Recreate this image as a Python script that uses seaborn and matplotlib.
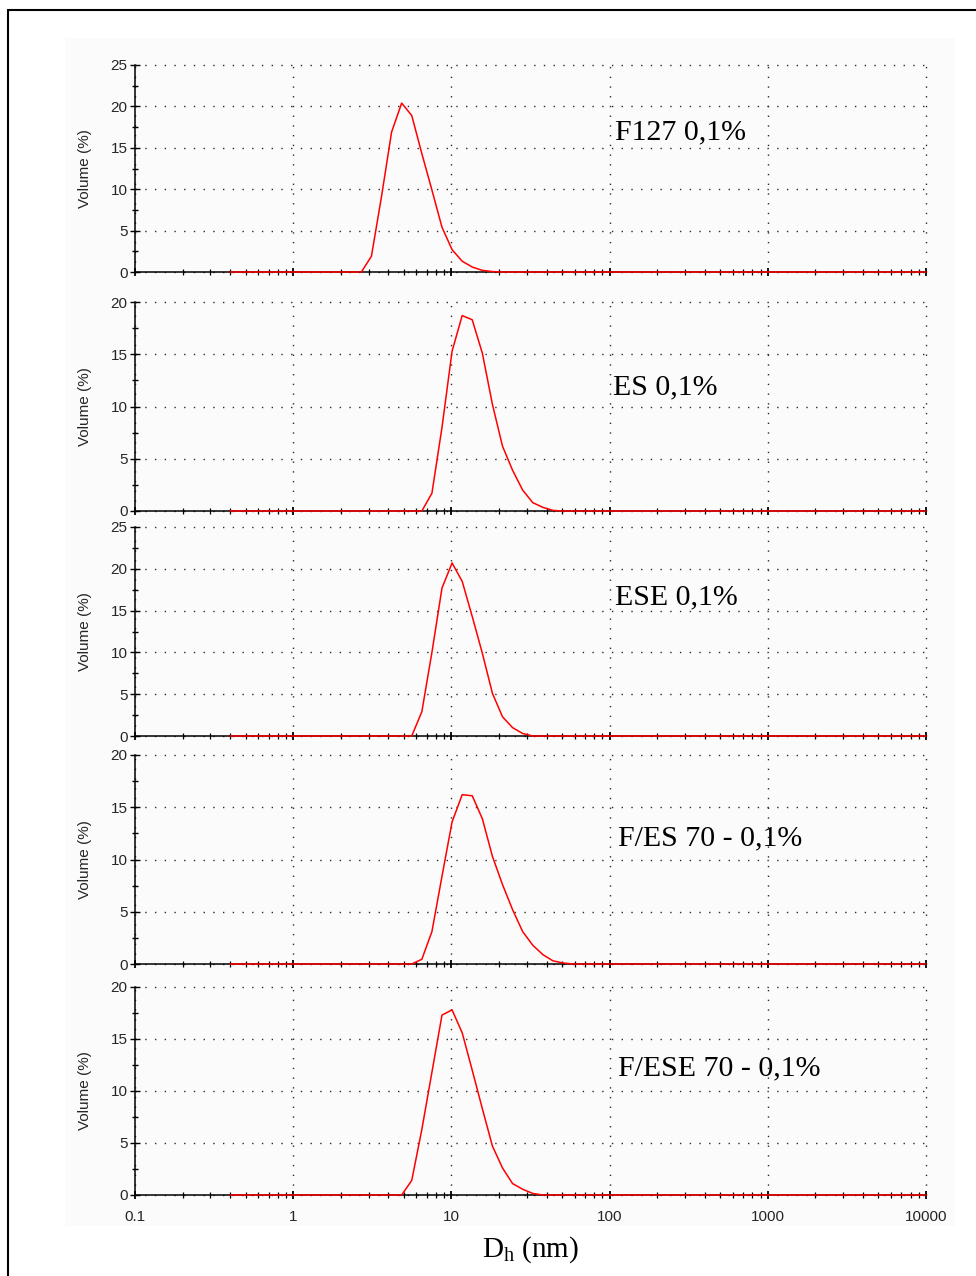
import matplotlib
matplotlib.use("Agg")
import matplotlib.pyplot as plt
import seaborn as sns
import pandas as pd
from matplotlib.ticker import FixedLocator, LogLocator, NullFormatter, FuncFormatter
from matplotlib.lines import Line2D
from matplotlib.patches import Rectangle

# ---------------- data ----------------
labels = ["F127 0,1%", "ES 0,1%", "ESE 0,1%", "F/ES 70 - 0,1%", "F/ESE 70 - 0,1%"]

f127_size = [0.4, 2.696, 3.122, 3.615, 4.187, 4.849, 5.615, 6.503, 7.531, 8.721,
             10.1, 11.7, 13.54, 15.69, 18.17, 21.04, 10000]
f127_vol = [0, 0, 1.9, 9.1, 16.9, 20.4, 18.9, 14.3, 9.9, 5.4,
            2.7, 1.3, 0.6, 0.2, 0.05, 0, 0]

es_size = [0.4, 6.503, 7.531, 8.721, 10.1, 11.7, 13.54, 15.69, 18.17, 21.04,
           24.36, 28.21, 32.67, 37.84, 43.82, 50.75, 10000]
es_vol = [0, 0, 1.7, 8.0, 15.3, 18.7, 18.3, 15.1, 10.2, 6.2,
          3.9, 2.0, 0.8, 0.35, 0.06, 0, 0]

ese_size = [0.4, 5.615, 6.503, 7.531, 8.721, 10.1, 11.7, 13.54, 15.69, 18.17,
            21.04, 24.36, 28.21, 32.67, 10000]
ese_vol = [0, 0, 2.9, 10.0, 17.7, 20.7, 18.5, 14.3, 9.9, 5.1,
           2.3, 1.0, 0.3, 0, 0]

fes_size = [0.4, 5.615, 6.503, 7.531, 8.721, 10.1, 11.7, 13.54, 15.69, 18.17,
            21.04, 24.36, 28.21, 32.67, 37.84, 43.82, 50.75, 58.77, 10000]
fes_vol = [0, 0, 0.45, 3.1, 8.4, 13.6, 16.2, 16.1, 13.9, 10.3,
           7.6, 5.2, 3.1, 1.8, 0.9, 0.3, 0.1, 0, 0]

fese_size = [0.4, 4.849, 5.615, 6.503, 7.531, 8.721, 10.1, 11.7, 13.54, 15.69,
             18.17, 21.04, 24.36, 28.21, 32.67, 37.84, 10000]
fese_vol = [0, 0, 1.4, 6.3, 11.8, 17.3, 17.8, 15.6, 12.0, 8.3,
            4.7, 2.6, 1.1, 0.55, 0.15, 0, 0]

y_max = [25, 20, 25, 20, 20]
x_ticks = [0.1, 1, 10, 100, 1000, 10000]
x_ticklabels = ["0.1", "1", "10", "100", "1000", "10000"]

series = [(f127_size, f127_vol), (es_size, es_vol), (ese_size, ese_vol),
          (fes_size, fes_vol), (fese_size, fese_vol)]

# ---------------- style ----------------
sns.set_style("white")
plt.rcParams["font.family"] = ["Liberation Sans", "DejaVu Sans"]
plt.rcParams["mathtext.fontset"] = "custom"
plt.rcParams["mathtext.rm"] = "Liberation Serif"
plt.rcParams["mathtext.it"] = "Liberation Serif:italic"

W, H = 976, 1276
fig = plt.figure(figsize=(W / 100, H / 100), dpi=100)
fig.patch.set_facecolor("white")

# subtle off-white screenshot area (behind everything)
bg = Rectangle((65 / W, 1 - 1226 / H), (955 - 65) / W, (1226 - 38) / H,
               transform=fig.transFigure, facecolor="#fbfbfb",
               edgecolor="none", zorder=-10)
fig.patches.append(bg)
# outer frame (left and top edges)
fig.add_artist(Line2D([8 / W, 8 / W], [0, 1 - 10 / H], transform=fig.transFigure,
                      color="black", lw=1.5))
fig.add_artist(Line2D([8 / W, 1], [1 - 10 / H, 1 - 10 / H], transform=fig.transFigure,
                      color="black", lw=1.5))

panels_px = [(65, 272), (302, 511), (527, 736), (755, 964), (987, 1195)]
left_px, right_px = 135, 926
text_pos = [(615, 132), (613, 387), (615, 597), (618, 838), (618, 1068)]

grid_style = dict(color="#2a2a2a", linestyle=(0, (1, 6.0)), linewidth=1.0)

for i, ((top, bot), (xs, ys), ym) in enumerate(zip(panels_px, series, y_max)):
    ax = fig.add_axes([left_px / W, 1 - bot / H, (right_px - left_px) / W, (bot - top) / H])
    ax.set_zorder(1)
    ax.set_facecolor("none")
    df = pd.DataFrame({"size": xs, "volume": ys})
    sns.lineplot(data=df, x="size", y="volume", ax=ax, color="#ff0000", lw=1.1,
                 estimator=None, sort=False, zorder=3, clip_on=False)
    ax.set_xscale("log")
    ax.set_xlim(0.1, 10000)
    ax.set_ylim(0, ym)

    ax.xaxis.set_major_locator(FixedLocator(x_ticks))
    ax.xaxis.set_minor_locator(LogLocator(base=10, subs=[2, 3, 4, 5, 6, 7, 8, 9], numticks=20))
    ax.xaxis.set_minor_formatter(NullFormatter())
    ax.set_xticks(x_ticks)
    ax.set_xticklabels(x_ticklabels)

    ax.yaxis.set_major_locator(FixedLocator(list(range(0, ym + 1, 5))))
    ax.yaxis.set_minor_locator(FixedLocator([v + 2.5 for v in range(0, ym, 5)]))
    ax.yaxis.set_major_formatter(FuncFormatter(lambda v, p: f"{int(v)}"))

    for s in ["top", "right"]:
        ax.spines[s].set_visible(False)
    for s in ["left", "bottom"]:
        ax.spines[s].set_color("black")
        ax.spines[s].set_linewidth(1.1)

    ax.grid(True, which="major", axis="both", **grid_style)
    ax.set_axisbelow(True)

    ax.tick_params(axis="y", which="major", direction="inout", length=6.5, width=1.0,
                   color="black", labelsize=11, pad=2.2, left=True)
    ax.tick_params(axis="y", which="minor", direction="inout", length=5, width=1.0,
                   color="black", left=True)
    ax.tick_params(axis="x", which="major", direction="inout", length=6, width=1.3,
                   color="black", labelsize=11, pad=7.5, bottom=True)
    ax.tick_params(axis="x", which="minor", direction="inout", length=4, width=0.9,
                   color="black", bottom=True)
    if i < 4:
        ax.tick_params(axis="x", which="both", labelbottom=False)

    ax.set_xlabel("")
    ax.set_ylabel("Volume (%)", fontsize=11)
    ax.yaxis.set_label_coords(-0.054, 0.5)

    for gl in ax.get_xgridlines() + ax.get_ygridlines():
        gl.set_clip_on(False)

    tx, ty = text_pos[i]
    fig.text(tx / W, 1 - ty / H, labels[i], family=["Liberation Serif", "DejaVu Serif"],
             fontsize=21.5, ha="left", va="center", color="black", zorder=5)

fig.text(530 / W, 1 - 1250 / H, r"$\mathrm{D_h}$ (nm)", family=["Liberation Serif", "DejaVu Serif"],
         fontsize=21, ha="center", va="center", color="black", zorder=5)

fig.savefig("out.png", dpi=100, facecolor="white")
